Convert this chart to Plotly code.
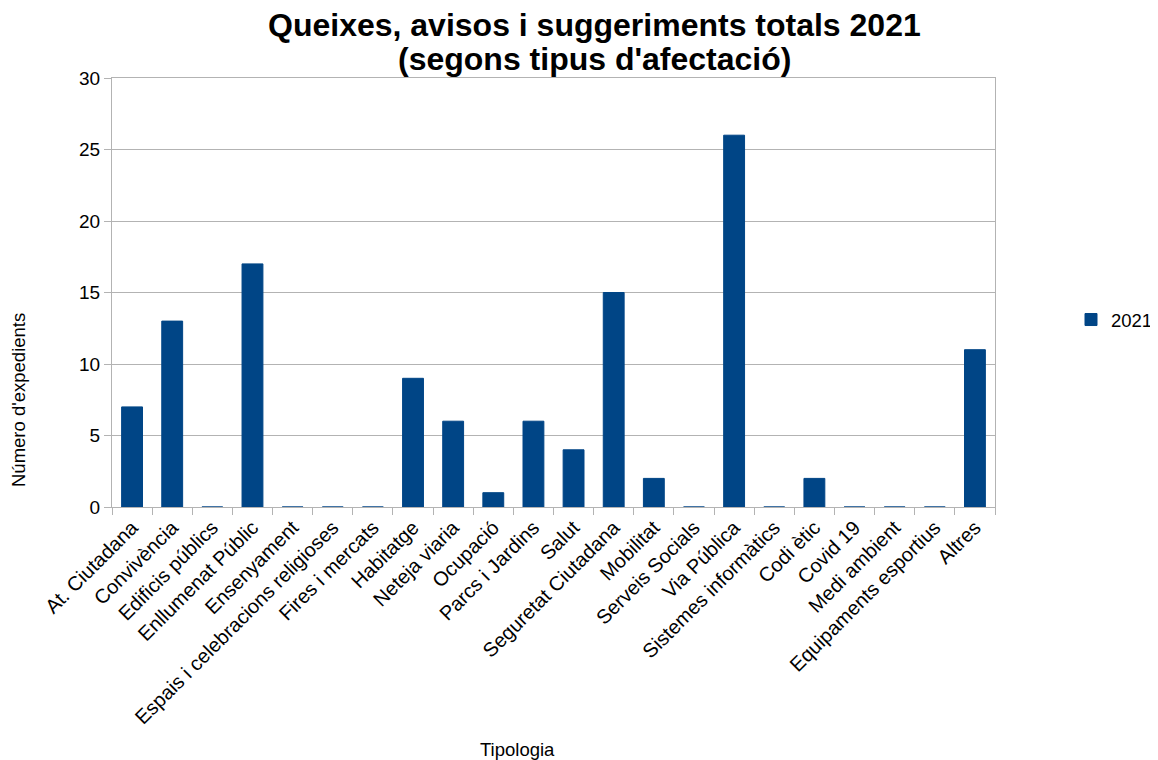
import plotly.graph_objects as go

categories = ["At. Ciutadana", "Convivència", "Edificis públics", "Enllumenat Públic",
              "Ensenyament", "Espais i celebracions religioses", "Fires i mercats",
              "Habitatge", "Neteja viaria", "Ocupació", "Parcs i Jardins", "Salut",
              "Seguretat Ciutadana", "Mobilitat", "Serveis Socials", "Via Pública",
              "Sistemes informàtics", "Codi ètic", "Covid 19", "Medi ambient",
              "Equipaments esportius", "Altres"]
values_2021 = [7, 13, 0, 17, 0, 0, 0, 9, 6, 1, 6, 4, 15, 2, 0, 26, 0, 2, 0, 0, 0, 11]
y_ticks = [0, 5, 10, 15, 20, 25, 30]
title_lines = ["Queixes, avisos i suggeriments totals 2021", "(segons tipus d'afectació)"]

FONT = "Liberation Sans, Arial, sans-serif"
BAR = "#004586"
GRID = "#b3b3b3"

# page body has an 8px margin, so the figure is laid out 8px smaller
W, H = 1150, 752
L, T, R, B = 104, 70, 163, 253
PW, PH = W - L - R, H - T - B

def px_x(x):
    return (x - L) / PW

def px_y(y):
    return (H - B - y) / PH

fig = go.Figure()
fig.add_trace(go.Bar(
    x=categories, y=values_2021, name="2021",
    marker=dict(color=BAR, line=dict(color=BAR, width=1)),
    width=0.52,
))

fig.update_layout(
    width=W, height=H,
    paper_bgcolor="white", plot_bgcolor="white",
    margin=dict(l=L, r=R, t=T, b=B, autoexpand=False),
    font=dict(family=FONT, color="black"),
    showlegend=True,
    legend=dict(x=px_x(1150), y=px_y(312), xanchor="right", yanchor="middle",
                font=dict(size=18.5, family=FONT), borderwidth=0),
)
fig.update_xaxes(
    type="category", tickangle=-45, tickfont=dict(size=20, family=FONT),
    showgrid=False, showline=True, linecolor=GRID, linewidth=1, mirror=True,
    ticks="outside", ticklen=7, tickcolor=GRID, tickson="boundaries", automargin=False,
)
fig.update_yaxes(
    range=[0, 30], tickvals=y_ticks, tickfont=dict(size=19, family=FONT),
    showgrid=True, gridcolor=GRID, gridwidth=1,
    showline=True, linecolor=GRID, linewidth=1, mirror=True,
    ticks="outside", ticklen=7, tickcolor=GRID, zeroline=False, automargin=False,
)
for line, yc in zip(title_lines, [17, 51]):
    fig.add_annotation(text="<b>" + line + "</b>", xref="paper", yref="paper",
                       x=px_x(586), y=px_y(yc), xanchor="center", yanchor="middle",
                       showarrow=False, font=dict(size=32, family=FONT, color="black"))
fig.add_annotation(text="Número d'expedients", textangle=-90, xref="paper", yref="paper",
                   x=px_x(10), y=px_y(392), xanchor="center", yanchor="middle", showarrow=False,
                   font=dict(size=18.5, family=FONT))
fig.add_annotation(text="Tipologia", xref="paper", yref="paper",
                   x=px_x(509), y=px_y(741), xanchor="center", yanchor="middle",
                   showarrow=False, font=dict(size=18.5, family=FONT))

fig.write_html("out.html")
